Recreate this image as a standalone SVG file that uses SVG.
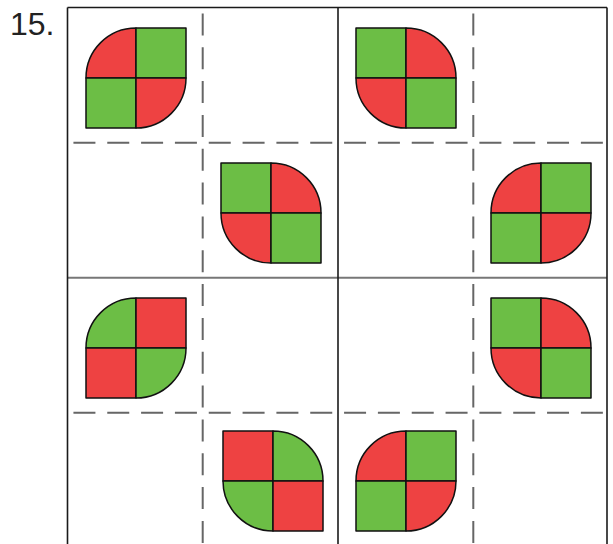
<svg xmlns="http://www.w3.org/2000/svg" width="613" height="544" viewBox="0 0 613 544">
<defs>
<style>
.bg{fill:#ffffff}
.solid{stroke:#1a1a1a;stroke-width:1.6;fill:none}
.solidg{stroke:#777777;stroke-width:2;fill:none}
.dash{stroke:#666666;stroke-width:2;fill:none;stroke-dasharray:22 11.83;stroke-dashoffset:27.9}
.r{fill:#EE4242;stroke:#111;stroke-width:1.5;stroke-linejoin:round}
.g{fill:#6CBE45;stroke:#111;stroke-width:1.5;stroke-linejoin:round}
.lbl{font-family:"Liberation Sans",Arial,sans-serif;font-size:32px;fill:#222}
</style>
</defs>
<rect class="bg" x="0" y="0" width="613" height="544"/>
<text class="lbl" x="10" y="35">15.</text>
<g id="connectors">
<line class="dash" x1="202.7" y1="7.5" x2="202.7" y2="560"/>
<line class="dash" x1="473.3" y1="7.5" x2="473.3" y2="560"/>
<line class="dash" x1="67.5" y1="142.7" x2="607" y2="142.7"/>
<line class="dash" x1="67.5" y1="412.7" x2="607" y2="412.7"/>
<line class="solidg" x1="67.5" y1="277.7" x2="607" y2="277.7"/>
<line class="solid" x1="338" y1="7.5" x2="338" y2="560"/>
<line class="solid" x1="67.5" y1="7.5" x2="67.5" y2="560"/>
<line class="solid" x1="607" y1="7.5" x2="607" y2="560"/>
<line class="solid" x1="67.5" y1="7.5" x2="607" y2="7.5"/>
</g>
<!-- Type A: TL red round, TR green, BL green, BR red round -->
<g id="tile-r1c1" transform="translate(86,28)">
<path class="r" d="M50,50 L0,50 A50,50 0 0 1 50,0 Z"/>
<rect class="g" x="50" y="0" width="50" height="50"/>
<rect class="g" x="0" y="50" width="50" height="50"/>
<path class="r" d="M50,50 L100,50 A50,50 0 0 1 50,100 Z"/>
</g>
<!-- Type B: TL green, TR red round, BL red round, BR green -->
<g id="tile-r1c3" transform="translate(356,28)">
<rect class="g" x="0" y="0" width="50" height="50"/>
<path class="r" d="M50,50 L50,0 A50,50 0 0 1 100,50 Z"/>
<path class="r" d="M50,50 L50,100 A50,50 0 0 1 0,50 Z"/>
<rect class="g" x="50" y="50" width="50" height="50"/>
</g>
<g id="tile-r2c2" transform="translate(221,163)">
<rect class="g" x="0" y="0" width="50" height="50"/>
<path class="r" d="M50,50 L50,0 A50,50 0 0 1 100,50 Z"/>
<path class="r" d="M50,50 L50,100 A50,50 0 0 1 0,50 Z"/>
<rect class="g" x="50" y="50" width="50" height="50"/>
</g>
<g id="tile-r2c4" transform="translate(491,163)">
<path class="r" d="M50,50 L0,50 A50,50 0 0 1 50,0 Z"/>
<rect class="g" x="50" y="0" width="50" height="50"/>
<rect class="g" x="0" y="50" width="50" height="50"/>
<path class="r" d="M50,50 L100,50 A50,50 0 0 1 50,100 Z"/>
</g>
<!-- Type C: TL green round, TR red, BL red, BR green round -->
<g id="tile-r3c1" transform="translate(86,298)">
<path class="g" d="M50,50 L0,50 A50,50 0 0 1 50,0 Z"/>
<rect class="r" x="50" y="0" width="50" height="50"/>
<rect class="r" x="0" y="50" width="50" height="50"/>
<path class="g" d="M50,50 L100,50 A50,50 0 0 1 50,100 Z"/>
</g>
<g id="tile-r3c4" transform="translate(491,298)">
<rect class="g" x="0" y="0" width="50" height="50"/>
<path class="r" d="M50,50 L50,0 A50,50 0 0 1 100,50 Z"/>
<path class="r" d="M50,50 L50,100 A50,50 0 0 1 0,50 Z"/>
<rect class="g" x="50" y="50" width="50" height="50"/>
</g>
<!-- Type D: TL red, TR green round, BL green round, BR red -->
<g id="tile-r4c2" transform="translate(223,431)">
<rect class="r" x="0" y="0" width="50" height="50"/>
<path class="g" d="M50,50 L50,0 A50,50 0 0 1 100,50 Z"/>
<path class="g" d="M50,50 L50,100 A50,50 0 0 1 0,50 Z"/>
<rect class="r" x="50" y="50" width="50" height="50"/>
</g>
<g id="tile-r4c3" transform="translate(356,431)">
<path class="r" d="M50,50 L0,50 A50,50 0 0 1 50,0 Z"/>
<rect class="g" x="50" y="0" width="50" height="50"/>
<rect class="g" x="0" y="50" width="50" height="50"/>
<path class="r" d="M50,50 L100,50 A50,50 0 0 1 50,100 Z"/>
</g>
</svg>
